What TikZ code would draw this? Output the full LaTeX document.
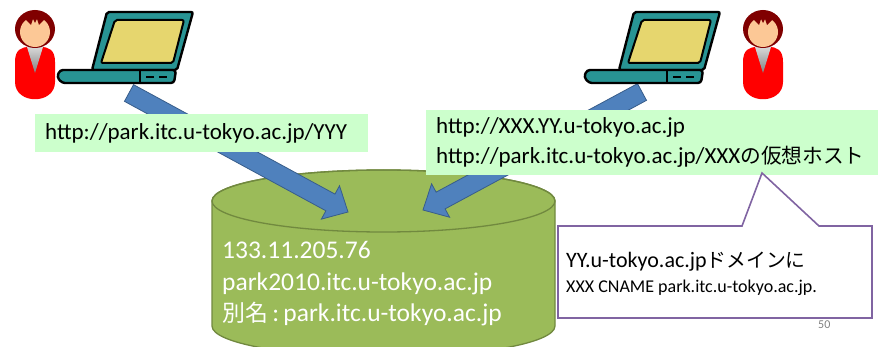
\documentclass[tikz,border=0pt]{standalone}
\usepackage{fontspec}
\setmainfont{Carlito}
\newfontfamily\jp[Scale=0.9]{Noto Sans CJK JP}
\usetikzlibrary{calc}

\definecolor{urlgreen}{RGB}{204,255,204}
\definecolor{dbfill}{RGB}{155,187,89}
\definecolor{dbedge}{RGB}{113,137,63}
\definecolor{arrowblue}{RGB}{79,129,189}
\definecolor{arrowedge}{RGB}{56,93,138}
\definecolor{notepurple}{RGB}{128,100,162}
\definecolor{hairbrown}{RGB}{128,0,0}
\definecolor{skin}{RGB}{252,200,150}
\definecolor{laptopteal}{RGB}{40,148,148}
\definecolor{screenyellow}{RGB}{230,214,110}

% fat block arrow from #1 to #2
\newcommand{\blockarrow}[2]{%
  \path ($(#2)!20pt!(#1)$) coordinate (head);
  \filldraw[fill=arrowblue,draw=arrowedge,line width=0.8pt]
    ($(#1)!9.5pt!90:(#2)$) -- ($(head)!9.5pt!90:(#2)$) -- ($(head)!19pt!90:(#2)$) -- (#2)
    -- ($(head)!19pt!-90:(#2)$) -- ($(head)!9.5pt!-90:(#2)$) -- ($(#1)!9.5pt!-90:(#2)$) -- cycle;}

\tikzset{
  urlbox/.style={fill=urlgreen,inner xsep=10pt,inner ysep=0pt,align=left,anchor=north west,
    font=\fontsize{23}{30}\selectfont},
  plain/.style={inner sep=0pt,anchor=west,align=left},
  person/.pic={
    \fill[red] (-20,62) .. controls (-20,50) and (-14,47) .. (-6,47) -- (6,47)
      .. controls (14,47) and (20,50) .. (20,62) -- (20,82)
      .. controls (20,105) and (-20,105) .. (-20,82) -- cycle;
    \shade[top color=gray!30,bottom color=gray] (-8,47) -- (8,47) -- (0,73) -- cycle;
    \fill[hairbrown] (0,29) ellipse[x radius=20,y radius=19];
    \fill[skin] (0,32) ellipse[x radius=15,y radius=15];
    \fill[hairbrown] (-10,19) -- (-4,25) -- (-2,19) -- (0,23) -- (2,19) -- (4,25) -- (10,19) -- (0,15) -- cycle;
  },
  laptop/.pic={
    \filldraw[fill=laptopteal,line width=2.4pt,rounded corners=2pt]
      (107,12) -- (193,12) -- (177,70) -- (92,70) -- cycle;
    \filldraw[fill=screenyellow,line width=2pt,rounded corners=2pt]
      (115,20) -- (184,20) -- (173,63) -- (101,63) -- cycle;
    \filldraw[fill=laptopteal,line width=2.4pt,rounded corners=3pt]
      (60,70) -- (176,70) -- (174,83) -- (62,83) -- (57,77) -- cycle;
    \draw[line width=1.5pt] (140,71) -- (140,82) (146,77) -- (154,77) (159,77) -- (167,77);
  }
}

\begin{document}
\begin{tikzpicture}[x=1pt,y=-1pt]
\clip (0,0) rectangle (888,347);

% the server
\filldraw[fill=dbfill,draw=dbedge,line width=1.3pt]
  (212,201) -- (212,326) arc[start angle=180,end angle=0,x radius=171.5,y radius=31]
  -- (555,201) arc[start angle=0,end angle=-180,x radius=171.5,y radius=31] -- cycle;
\draw[dbedge,line width=1.3pt] (383.5,201) ellipse[x radius=171.5,y radius=31];
\node[plain,text=white,font=\fontsize{25.5}{31.5}\selectfont] (dbtext) at (222,284)
  {133.11.205.76\\park2010.itc.u-tokyo.ac.jp\\{\jp 別名}\,:\,park.itc.u-tokyo.ac.jp};

% requests
\coordinate (leftport) at (129,93);
\coordinate (rightport) at (642,92);
\coordinate (dbleft) at (348,212);
\coordinate (dbright) at (423,210);
\blockarrow{leftport}{dbleft}
\blockarrow{rightport}{dbright}

\node[urlbox,text width=313pt,minimum height=38pt] (lefturl) at (35,114)
  {\mbox{http://park.itc.u-tokyo.ac.jp/YYY}};
\node[urlbox,text width=432pt,minimum height=65pt] (righturl) at (426,110)
  {\mbox{http://XXX.YY.u-tokyo.ac.jp}\\\mbox{http://park.itc.u-tokyo.ac.jp/XXX{\jp の仮想ホスト}}};

% DNS note
\coordinate (notetip) at (762,173);
\filldraw[fill=white,draw=notepurple,line width=1.6pt]
  (558,226) -- (742,226) -- (notetip) -- (819,226) -- (872,226) -- (872,318) -- (558,318) -- cycle;
\node[plain,font=\fontsize{22}{26}\selectfont] (notedomain) at (566,262)
  {YY.u-tokyo.ac.jp{\jp ドメインに}};
\node[plain,font=\fontsize{18}{20}\selectfont] (noterecord) at (566,288)
  {XXX CNAME park.itc.u-tokyo.ac.jp.};
\node[plain,text=gray,font=\fontsize{12}{14}\selectfont] (pagenum) at (818,325) {50};

% users
\pic at (35,0) {person};
\pic at (763,0) {person};
\pic at (0,0) {laptop};
\pic at (527,0) {laptop};
\end{tikzpicture}
\end{document}
